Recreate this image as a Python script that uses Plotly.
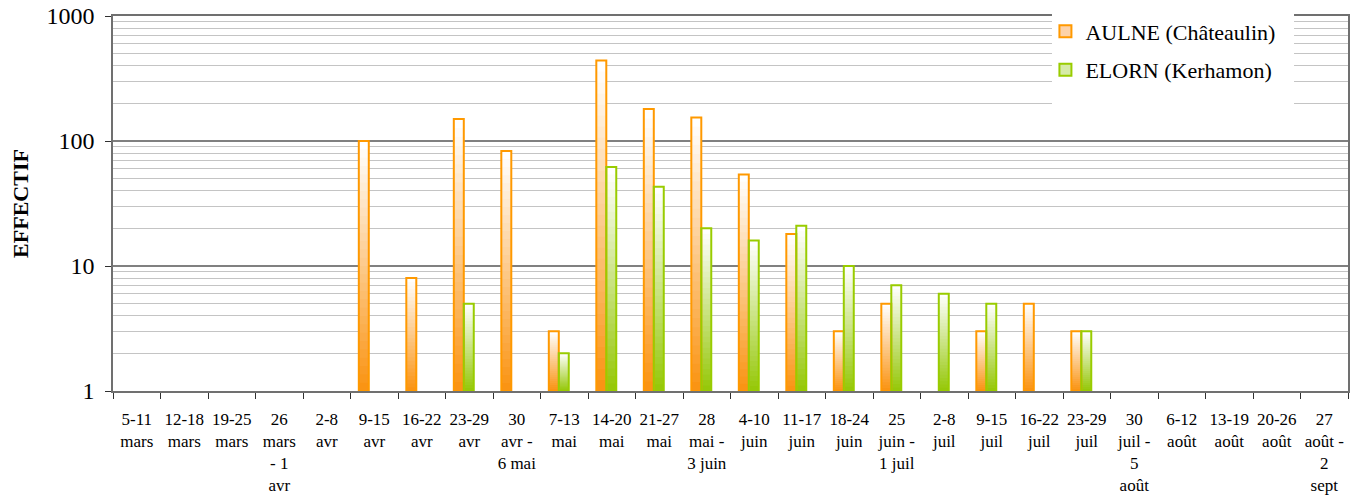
import plotly.graph_objects as go

categories = ["5-11<br>mars", "12-18<br>mars", "19-25<br>mars", "26<br>mars<br>- 1<br>avr", "2-8<br>avr",
              "9-15<br>avr", "16-22<br>avr", "23-29<br>avr", "30<br>avr -<br>6 mai", "7-13<br>mai",
              "14-20<br>mai", "21-27<br>mai", "28<br>mai -<br>3 juin", "4-10<br>juin", "11-17<br>juin",
              "18-24<br>juin", "25<br>juin -<br>1 juil", "2-8<br>juil", "9-15<br>juil", "16-22<br>juil",
              "23-29<br>juil", "30<br>juil -<br>5<br>août", "6-12<br>août", "13-19<br>août", "20-26<br>août",
              "27<br>août -<br>2<br>sept"]

aulne = [None, None, None, None, None, 100, 8, 150, 83, 3, 440, 180, 154, 54, 18, 3, 5, None, 3, 5, 3,
         None, None, None, None, None]
elorn = [None, None, None, None, None, None, None, 5, None, 2, 62, 43, 20, 16, 21, 10, 7, 6, 5, None, 3,
         None, None, None, None, None]

y_tickvals = [1, 10, 100, 1000]
y_ticktext = ["1", "10", "100", "1000"]

series = [
    dict(name="AULNE (Châteaulin)", values=aulne, base_rgb=(250, 148, 20), line="#ff9900",
         legend_fill="#fdd2a8", offset=-0.325),
    dict(name="ELORN (Kerhamon)", values=elorn, base_rgb=(150, 200, 10), line="#99cc00",
         legend_fill="#d6eba8", offset=-0.115),
]

BAR_W = 0.21
K = 30
FONT = "Liberation Serif, Times New Roman, serif"

fig = go.Figure()

# gradient fill: stacked overlapping segments, each from a fraction of the bar up to its top
for s in series:
    vals = s["values"]
    r0, g0, b0 = s["base_rgb"]
    for k in range(K):
        t = k / (K - 1)
        col = "rgb(%d,%d,%d)" % (round(r0 + (255 - r0) * t), round(g0 + (255 - g0) * t), round(b0 + (255 - b0) * t))
        bases = [(v ** (k / K)) if v is not None else None for v in vals]
        lens = [(v - v ** (k / K)) if v is not None else None for v in vals]
        fig.add_trace(go.Bar(x=categories, y=lens, base=bases, width=BAR_W, offset=s["offset"],
                             marker=dict(color=col, line=dict(width=0)),
                             showlegend=False, hoverinfo="skip"))

for i, s in enumerate(series):
    vals = s["values"]
    fills = [s["legend_fill"]] + ["rgba(0,0,0,0)"] * (len(vals) - 1)
    fig.add_trace(go.Bar(x=categories, y=[v - 1 if v is not None else None for v in vals],
                         base=[1] * len(vals), width=BAR_W, offset=s["offset"], name=s["name"],
                         legendgroup="g%d" % i,
                         marker=dict(color=fills, line=dict(color=s["line"], width=2))))

fig.update_layout(
    width=1350, height=504,
    margin=dict(l=113, r=2, t=16, b=113),
    plot_bgcolor="white", paper_bgcolor="white",
    barmode="overlay",
    font=dict(family=FONT, color="black"),
    showlegend=True,
    legend=dict(x=0.755, y=1.015, xanchor="left", yanchor="top", bgcolor="rgba(0,0,0,0)",
                font=dict(family=FONT, size=22, color="black"), tracegroupgap=7,
                traceorder="grouped"),
    xaxis=dict(type="category", range=[-0.5, 25.5], showgrid=False, showline=True, mirror=True,
               linecolor="#707070", linewidth=1.5, ticks="outside", tickson="boundaries",
               ticklen=6, tickcolor="#303030", tickangle=0, automargin=False,
               tickfont=dict(family=FONT, size=17, color="black"), ticklabelstandoff=12),
    yaxis=dict(type="log", range=[0, 3], tickvals=y_tickvals, ticktext=y_ticktext,
               showline=True, mirror=True, linecolor="#707070", linewidth=1.5,
               ticks="outside", ticklen=6, tickcolor="#303030", automargin=False,
               showgrid=True, gridcolor="#808080", gridwidth=1.5,
               minor=dict(showgrid=True, gridcolor="#c4c4c4", gridwidth=1.2, dtick="D1", ticks=""),
               tickfont=dict(family=FONT, size=24, color="black"), ticklabelstandoff=6,
               ticklabeloverflow="allow",
               title=dict(text="<b>EFFECTIF</b>", font=dict(family=FONT, size=22, color="black"),
                          standoff=12),
               zeroline=False),
)

fig.add_shape(type="line", xref="paper", yref="y", x0=0, x1=1, y0=10, y1=10,
              line=dict(color="black", width=1.2), layer="below")
fig.add_shape(type="rect", xref="paper", yref="paper", x0=0.7603, x1=0.9563, y0=0.763, y1=1.06,
              fillcolor="white", line=dict(width=0), layer="above")

fig.write_html("out.html", config={"displayModeBar": False},
               post_script="document.body.style.margin='0';")
